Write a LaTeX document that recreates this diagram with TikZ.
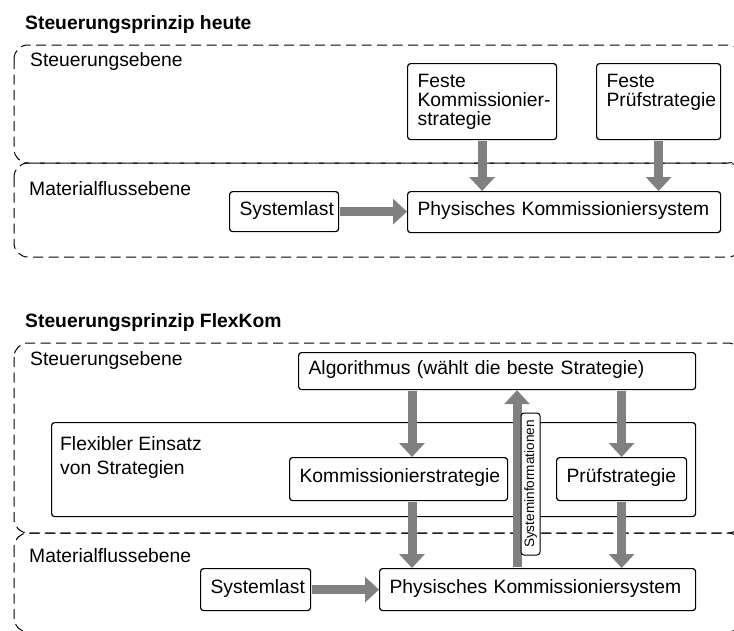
\documentclass[tikz,border=0pt]{standalone}
\usepackage{fontspec}
\setmainfont{Liberation Sans}
\usetikzlibrary{arrows.meta,calc}
\definecolor{flowgray}{HTML}{808080}
\begin{document}
\begin{tikzpicture}[x=1pt,y=-1pt,
  every node/.style={font=\fontsize{19.3}{19}\selectfont},
  region/.style={draw, line width=1pt, dash pattern=on 10pt off 5.5pt, rounded corners=14pt},
  mbox/.style={draw, line width=1.2pt, rounded corners=3pt, fill=white, anchor=north west,
    inner xsep=10pt, inner ysep=0pt, align=left},
  box/.style={mbox, text height=0.72em, text depth=0pt},
  frame/.style={draw, line width=1.2pt, rounded corners=3pt, anchor=north west, inner sep=0pt},
  label/.style={anchor=base west, inner sep=0pt},
  heading/.style={anchor=base west, inner sep=0pt, font=\fontsize{19.3}{19}\selectfont\bfseries},
  flow/.style={draw=flowgray, line width=9pt, -{Triangle[width=25pt,length=14pt]}, shorten <=0.6pt},
  infobox/.style={draw, line width=1pt, rounded corners=3pt, fill=white, rotate=90,
    minimum width=142pt, minimum height=19pt, inner sep=0pt,
    font=\fontsize{13.6}{14}\selectfont}
]
\useasboundingbox (0,0) rectangle (734,630);

% layer regions (dashed, running off the right and bottom edge)
\begin{scope}
  \clip (0,0) rectangle (734,630);
  \path[region] (14,45) rectangle (742,163);
  \path[region] (14,163) rectangle (742,257);
  \path[region] (14,343) rectangle (742,533);
  \path[region] (14,533) rectangle (742,632);
\end{scope}

% ---------------- current control principle ----------------
\node[heading] (t1) at (25,29) {Steuerungsprinzip heute};
\node[label] (se1) at (30,66) {Steuerungsebene};
\node[label] (me1) at (29,195) {Materialflussebene};

\node[mbox, minimum width=149pt, minimum height=76pt, text width=129pt] (fk) at (407,63)
  {\mbox{Feste}\\\mbox{Kommissionier-}\\\mbox{strategie}};
\node[mbox, minimum width=124pt, minimum height=76pt, text width=104pt] (fp) at (596,63)
  {\mbox{Feste}\\\mbox{Prüfstrategie}\\\mbox{\vphantom{g}}};
\node[box, minimum width=109pt, minimum height=40pt, text width=89pt] (sl1) at (229,191)
  {\mbox{Systemlast}};
\node[box, minimum width=313pt, minimum height=41pt, text width=293pt] (pks1) at (407,191)
  {Physisches Kommissioniersystem};

\draw[flow] (fk.south) -- (fk.south |- pks1.north);
\draw[flow] (fp.south) -- (fp.south |- pks1.north);
\draw[flow] (sl1.east) -- (pks1.west |- sl1.east);

% ---------------- FlexKom control principle ----------------
\node[heading] (t2) at (25,327) {Steuerungsprinzip FlexKom};
\node[label] (se2) at (30,365) {Steuerungsebene};
\node[label] (me2) at (29,562) {Materialflussebene};

\node[frame, minimum width=644pt, minimum height=94pt] (flex) at (51,422) {};
\node[label] (flexlbl1) at (60,450) {Flexibler Einsatz};
\node[label] (flexlbl2) at (60,474) {von Strategien};

\node[box, minimum width=397pt, minimum height=37pt, text width=377pt] (algo) at (298,352)
  {Algorithmus (wählt die beste Strategie)};
\node[box, minimum width=218pt, minimum height=43pt, text width=198pt] (ks) at (289,457)
  {\mbox{Kommissionierstrategie}};
\node[box, minimum width=130pt, minimum height=43pt, text width=110pt] (ps) at (556,457)
  {\mbox{Prüfstrategie}};
\node[box, minimum width=316pt, minimum height=42pt, text width=296pt] (pks2) at (379,568)
  {Physisches Kommissioniersystem};
\node[box, minimum width=110pt, minimum height=42pt, text width=90pt] (sl2) at (200,568)
  {\mbox{Systemlast}};

\coordinate (kcol) at (412,0);
\coordinate (icol) at (517,0);

\draw[flow] (algo.south -| kcol) -- (ks.north -| kcol);
\draw[flow] (algo.south -| ps.north) -- (ps.north);
\draw[flow] (ks.south -| kcol) -- (pks2.north -| kcol);
\draw[flow] (ps.south) -- (pks2.north -| ps.south);
\draw[flow] (sl2.east) -- (pks2.west |- sl2.east);
\draw[flow] (pks2.north -| icol) -- (algo.south -| icol);

\node[infobox] (info) at (530.5,484) {Systeminformationen};
\end{tikzpicture}
\end{document}
